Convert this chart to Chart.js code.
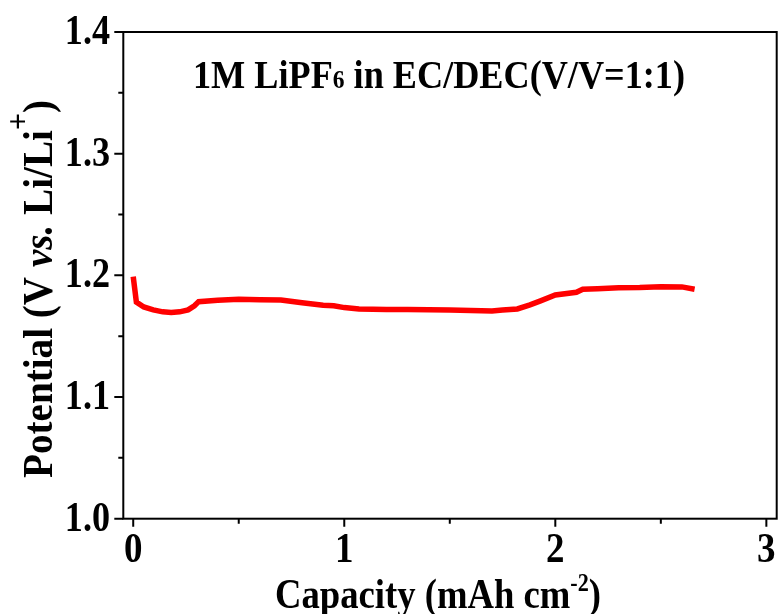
<!DOCTYPE html>
<html>
<head>
<meta charset="utf-8">
<script src="https://cdn.jsdelivr.net/npm/chart.js@4/dist/chart.umd.min.js"></script>
<style>
html,body{margin:0;padding:0;background:#fff;}
#wrap{width:780px;height:614px;position:relative;}
</style>
</head>
<body>
<div id="wrap"><canvas id="c" width="780" height="614"></canvas></div>
<script>
// ---- data ----
const capacity = [0, 0.015, 0.05, 0.095, 0.14, 0.18, 0.22, 0.26, 0.29, 0.31, 0.4, 0.5, 0.6, 0.7, 0.8, 0.9, 0.95, 1.0, 1.07, 1.2, 1.3, 1.4, 1.5, 1.6, 1.7, 1.75, 1.82, 1.88, 1.93, 2.0, 2.1, 2.13, 2.2, 2.3, 2.4, 2.5, 2.6, 2.66];
const potential = [1.199, 1.178, 1.174, 1.1716, 1.170, 1.1694, 1.170, 1.1716, 1.175, 1.1784, 1.1795, 1.1804, 1.180, 1.1798, 1.1775, 1.1755, 1.175, 1.1735, 1.1724, 1.172, 1.172, 1.1718, 1.1716, 1.1712, 1.1707, 1.1715, 1.1724, 1.1757, 1.179, 1.1839, 1.1861, 1.1886, 1.189, 1.1899, 1.190, 1.1907, 1.1905, 1.1886];
const xMajorTicks = [0, 1, 2, 3];
const xMinorTicks = [0.5, 1.5, 2.5];
const xTickLabels = ['0', '1', '2', '3'];
const yMajorTicks = [1.0, 1.1, 1.2, 1.3, 1.4];
const yMinorTicks = [1.05, 1.15, 1.25, 1.35];
const yTickLabels = ['1.0', '1.1', '1.2', '1.3', '1.4'];

const FONT = '"Liberation Serif", "Times New Roman", serif';

function drawRich(ctx, segs, x, y, targetW, align) {
  let w = 0;
  segs.forEach(s => { ctx.font = s.font; s.w = ctx.measureText(s.t).width; w += s.w; });
  const sx = targetW ? targetW / w : 1;
  ctx.save();
  ctx.translate(x, y);
  ctx.scale(sx, 1);
  let cx = align === 'center' ? -w / 2 : (align === 'right' ? -w : 0);
  ctx.textBaseline = 'alphabetic';
  ctx.textAlign = 'left';
  segs.forEach(s => {
    ctx.font = s.font;
    ctx.fillText(s.t, cx, s.dy || 0);
    cx += s.w;
  });
  ctx.restore();
}

function drawCondensed(ctx, t, x, y, sx, align) {
  ctx.save();
  ctx.translate(x, y);
  ctx.scale(sx, 1);
  ctx.textAlign = align;
  ctx.fillText(t, 0, 0);
  ctx.restore();
}

const framePlugin = {
  id: 'frame',
  afterDraw(chart) {
    const ctx = chart.ctx;
    const a = chart.chartArea;
    const xs = chart.scales.x, ys = chart.scales.y;
    ctx.save();
    ctx.strokeStyle = '#000';
    ctx.fillStyle = '#000';
    ctx.lineWidth = 2;
    ctx.strokeRect(a.left, a.top, a.right - a.left, a.bottom - a.top);
    ctx.beginPath();
    xMajorTicks.forEach(v => { const p = xs.getPixelForValue(v); ctx.moveTo(p, a.bottom); ctx.lineTo(p, a.bottom + 8); });
    xMinorTicks.forEach(v => { const p = xs.getPixelForValue(v); ctx.moveTo(p, a.bottom); ctx.lineTo(p, a.bottom + 5); });
    yMajorTicks.forEach(v => { const p = ys.getPixelForValue(v); ctx.moveTo(a.left, p); ctx.lineTo(a.left - 9, p); });
    yMinorTicks.forEach(v => { const p = ys.getPixelForValue(v); ctx.moveTo(a.left, p); ctx.lineTo(a.left - 5, p); });
    ctx.stroke();

    // tick labels
    ctx.font = 'bold 42px ' + FONT;
    ctx.textBaseline = 'alphabetic';
    xMajorTicks.forEach((v, i) => drawCondensed(ctx, xTickLabels[i], xs.getPixelForValue(v), 562, 0.88, 'center'));
    yMajorTicks.forEach((v, i) => drawCondensed(ctx, yTickLabels[i], 110, ys.getPixelForValue(v) + 12, 0.86, 'right'));

    // x title
    drawRich(ctx, [
      {t: 'Capacity (mAh cm', font: 'bold 43px ' + FONT},
      {t: '-2', font: 'bold 26px ' + FONT, dy: -17},
      {t: ')', font: 'bold 43px ' + FONT}
    ], 438, 608, 326, 'center');

    // y title
    ctx.save();
    ctx.translate(52, 289);
    ctx.rotate(-Math.PI / 2);
    drawRich(ctx, [
      {t: 'Potential (V ', font: 'bold 42px ' + FONT},
      {t: 'vs.', font: 'italic bold 42px ' + FONT},
      {t: ' Li/Li', font: 'bold 42px ' + FONT},
      {t: '+', font: 'bold 32px ' + FONT, dy: -24},
      {t: ')', font: 'bold 42px ' + FONT}
    ], 0, 0, 378, 'center');
    ctx.restore();

    // annotation
    drawRich(ctx, [
      {t: '1M LiPF', font: 'bold 40px ' + FONT},
      {t: '6', font: 'bold 26px ' + FONT},
      {t: ' in EC/DEC(V/V=1:1)', font: 'bold 40px ' + FONT}
    ], 193, 88, 492, 'left');
    ctx.restore();
  }
};

new Chart(document.getElementById('c'), {
  type: 'line',
  data: {
    datasets: [{
      data: capacity.map((x, i) => ({x: x, y: potential[i]})),
      borderColor: '#ff0000',
      borderWidth: 5.5,
      pointRadius: 0,
      tension: 0,
      fill: false
    }]
  },
  options: {
    responsive: false,
    animation: false,
    devicePixelRatio: 1,
    layout: {padding: {left: 123.3, right: 3.3, top: 32, bottom: 95.3}},
    plugins: {legend: {display: false}, tooltip: {enabled: false}},
    scales: {
      x: {type: 'linear', min: -0.047, max: 3.049, display: false},
      y: {type: 'linear', min: 1.0, max: 1.4, display: false}
    }
  },
  plugins: [framePlugin]
});
</script>
</body>
</html>
